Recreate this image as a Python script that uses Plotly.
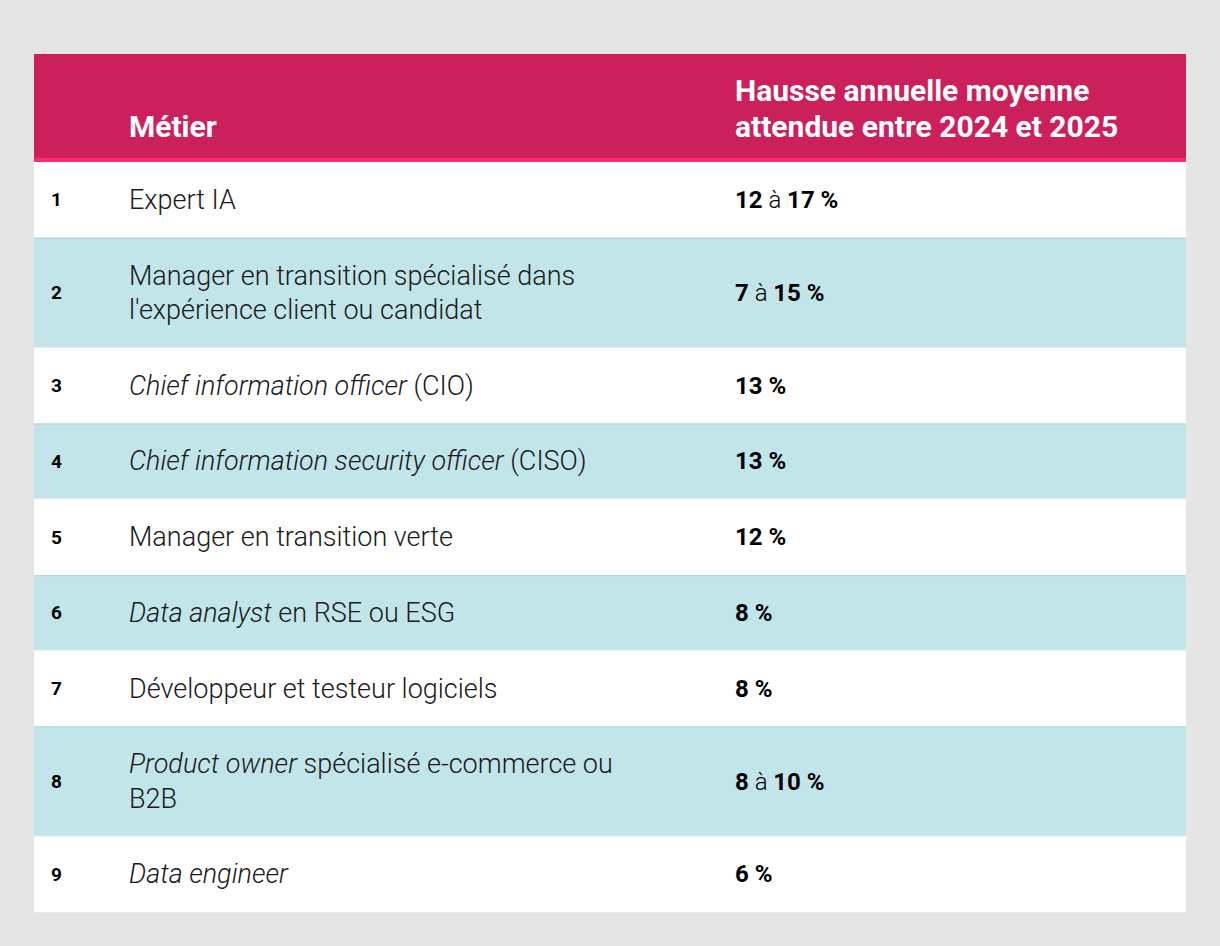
import plotly.graph_objects as go

# ---------------- data ----------------
ranks = ["1", "2", "3", "4", "5", "6", "7", "8", "9"]
metiers = [
    "Expert IA",
    "Manager en transition spécialisé dans<br>l'expérience client ou candidat",
    "<i>Chief information officer</i> (CIO)",
    "<i>Chief information security officer</i> (CISO)",
    "Manager en transition verte",
    "<i>Data analyst</i> en RSE ou ESG",
    "Développeur et testeur logiciels",
    "<i>Product owner</i> spécialisé e-commerce ou<br>B2B",
    "<i>Data engineer</i>",
]
hausse = [
    "<b>12</b> à <b>17 %</b>",
    "<b>7</b> à <b>15 %</b>",
    "<b>13 %</b>",
    "<b>13 %</b>",
    "<b>12 %</b>",
    "<b>8 %</b>",
    "<b>8 %</b>",
    "<b>8</b> à <b>10 %</b>",
    "<b>6 %</b>",
]
header_metier = "Métier"
header_hausse = ["Hausse annuelle moyenne", "attendue entre 2024 et 2025"]

# ---------------- styling ----------------
W, H = 1220, 946
BG = "#e5e5e5"
PINK = "#cc205c"
ACCENT = "#ff2a6e"
TEAL = "#c2e5e9"
TEAL_TOP = "#b2d8dc"
LIGHT_LINE = "#e4ecee"
FONT_L = "Roboto Light, Roboto"
FONT_B = "Roboto"
TXT = "#1a1a1a"

X0, X1 = 34, 1186
COL_RANK, COL_METIER, COL_HAUSSE = 50, 128, 734
HEAD_TOP, HEAD_BOT, ACC_BOT = 54, 158, 162
LINE_GAP = 34.5

fig = go.Figure()
fig.update_layout(
    width=W, height=H,
    margin=dict(l=0, r=0, t=0, b=0),
    paper_bgcolor=BG, plot_bgcolor=BG,
    xaxis=dict(range=[0, W], visible=False, fixedrange=True),
    yaxis=dict(range=[H, 0], visible=False, fixedrange=True),
    showlegend=False,
)

shapes = []
annots = []

# header
shapes.append(dict(type="rect", xref="x", yref="y", x0=X0, x1=X1, y0=HEAD_TOP, y1=HEAD_BOT,
                   fillcolor=PINK, line_width=0, layer="below"))
shapes.append(dict(type="rect", xref="x", yref="y", x0=X0, x1=X1, y0=HEAD_BOT, y1=ACC_BOT,
                   fillcolor=ACCENT, line_width=0, layer="below"))
annots.append(dict(x=COL_METIER - 1, y=126, xref="x", yref="y", text="<b>" + header_metier + "</b>",
                   showarrow=False, xanchor="left", yanchor="middle",
                   font=dict(family=FONT_B, size=30, color="white")))
for i, ln in enumerate(header_hausse):
    annots.append(dict(x=COL_HAUSSE - 1, y=90 + i * 36, xref="x", yref="y", text="<b>" + ln + "</b>",
                       showarrow=False, xanchor="left", yanchor="middle",
                       font=dict(family=FONT_B, size=30, color="white")))

# rows
y = ACC_BOT
for i, (r, m, h) in enumerate(zip(ranks, metiers, hausse)):
    lines = m.split("<br>")
    n = len(lines)
    rh = 41.2 + LINE_GAP * n
    y0, y1 = y, y + rh
    if i % 2 == 1:
        shapes.append(dict(type="rect", xref="x", yref="y", x0=X0, x1=X1, y0=y0, y1=y1,
                           fillcolor=TEAL, line_width=0, layer="below"))
        shapes.append(dict(type="rect", xref="x", yref="y", x0=X0, x1=X1, y0=y0, y1=y0 + 1.2,
                           fillcolor=TEAL_TOP, line_width=0, layer="below"))
        shapes.append(dict(type="rect", xref="x", yref="y", x0=X0, x1=X1, y0=y1 - 1.2, y1=y1,
                           fillcolor=LIGHT_LINE, line_width=0, layer="below"))
    else:
        shapes.append(dict(type="rect", xref="x", yref="y", x0=X0, x1=X1, y0=y0, y1=y1,
                           fillcolor="white", line_width=0, layer="below"))
    yc = (y0 + y1) / 2
    annots.append(dict(x=COL_RANK - 1, y=yc, xref="x", yref="y", text="<b>" + r + "</b>",
                       showarrow=False, xanchor="left", yanchor="middle",
                       font=dict(family=FONT_B, size=19, color="black")))
    for k, ln in enumerate(lines):
        ly = yc + (k - (n - 1) / 2) * LINE_GAP
        annots.append(dict(x=COL_METIER - 1, y=ly, xref="x", yref="y", text=ln,
                           showarrow=False, xanchor="left", yanchor="middle",
                           font=dict(family=FONT_L, size=27, color=TXT, weight=300)))
    annots.append(dict(x=COL_HAUSSE - 1, y=yc, xref="x", yref="y", text=h,
                       showarrow=False, xanchor="left", yanchor="middle",
                       font=dict(family=FONT_B, size=24, color="black", weight=300)))
    y = y1

fig.update_layout(shapes=shapes, annotations=annots)
fig.write_html(
    "out.html",
    config={"displayModeBar": False, "staticPlot": True},
    post_script="document.body.style.margin='0';document.body.style.background='#e5e5e5';",
)
